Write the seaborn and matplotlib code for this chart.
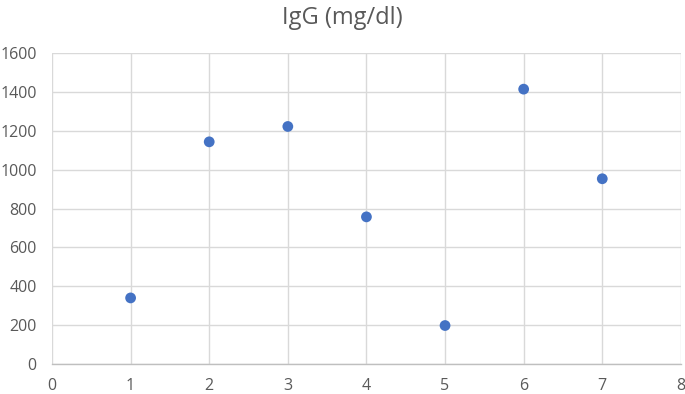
import matplotlib
matplotlib.use("Agg")
import matplotlib.pyplot as plt
import seaborn as sns
import pandas as pd

x_vals = [1, 2, 3, 4, 5, 6, 7]
igg_vals = [340, 1143, 1222, 757, 198, 1414, 953]
x_ticks = [0, 1, 2, 3, 4, 5, 6, 7, 8]
y_ticks = [0, 200, 400, 600, 800, 1000, 1200, 1400, 1600]
title = "IgG (mg/dl)"

df = pd.DataFrame({"x": x_vals, "y": igg_vals})

sns.set_theme(style="white")
plt.rcParams['font.family'] = ['Open Sans', 'DejaVu Sans']

fig = plt.figure(figsize=(6.85, 3.94), dpi=100)
ax = fig.add_axes([0.0759, 0.0761, 0.9181, 0.7894])

sns.scatterplot(data=df, x="x", y="y", ax=ax, color="#4472C4", s=60,
                edgecolor="none", zorder=3, legend=False)

ax.set_xlim(0, 8)
ax.set_ylim(0, 1600)
ax.set_xticks(x_ticks)
ax.set_yticks(y_ticks)
ax.grid(True, color="#d9d9d9", linewidth=1.0)
ax.set_axisbelow(True)
for s in ["top", "right", "left"]:
    ax.spines[s].set_visible(False)
ax.spines["bottom"].set_color("#bfbfbf")
ax.spines["bottom"].set_linewidth(1.0)
ax.tick_params(axis="y", length=0, labelsize=11.5, colors="#595959", pad=11)
ax.tick_params(axis="x", length=0, labelsize=11.5, colors="#595959", pad=10)
ax.set_xlabel("")
ax.set_ylabel("")
fig.text(0.5, 0.955, title, ha="center", va="center", fontsize=17, color="#595959")

fig.savefig("out.png", dpi=100)
